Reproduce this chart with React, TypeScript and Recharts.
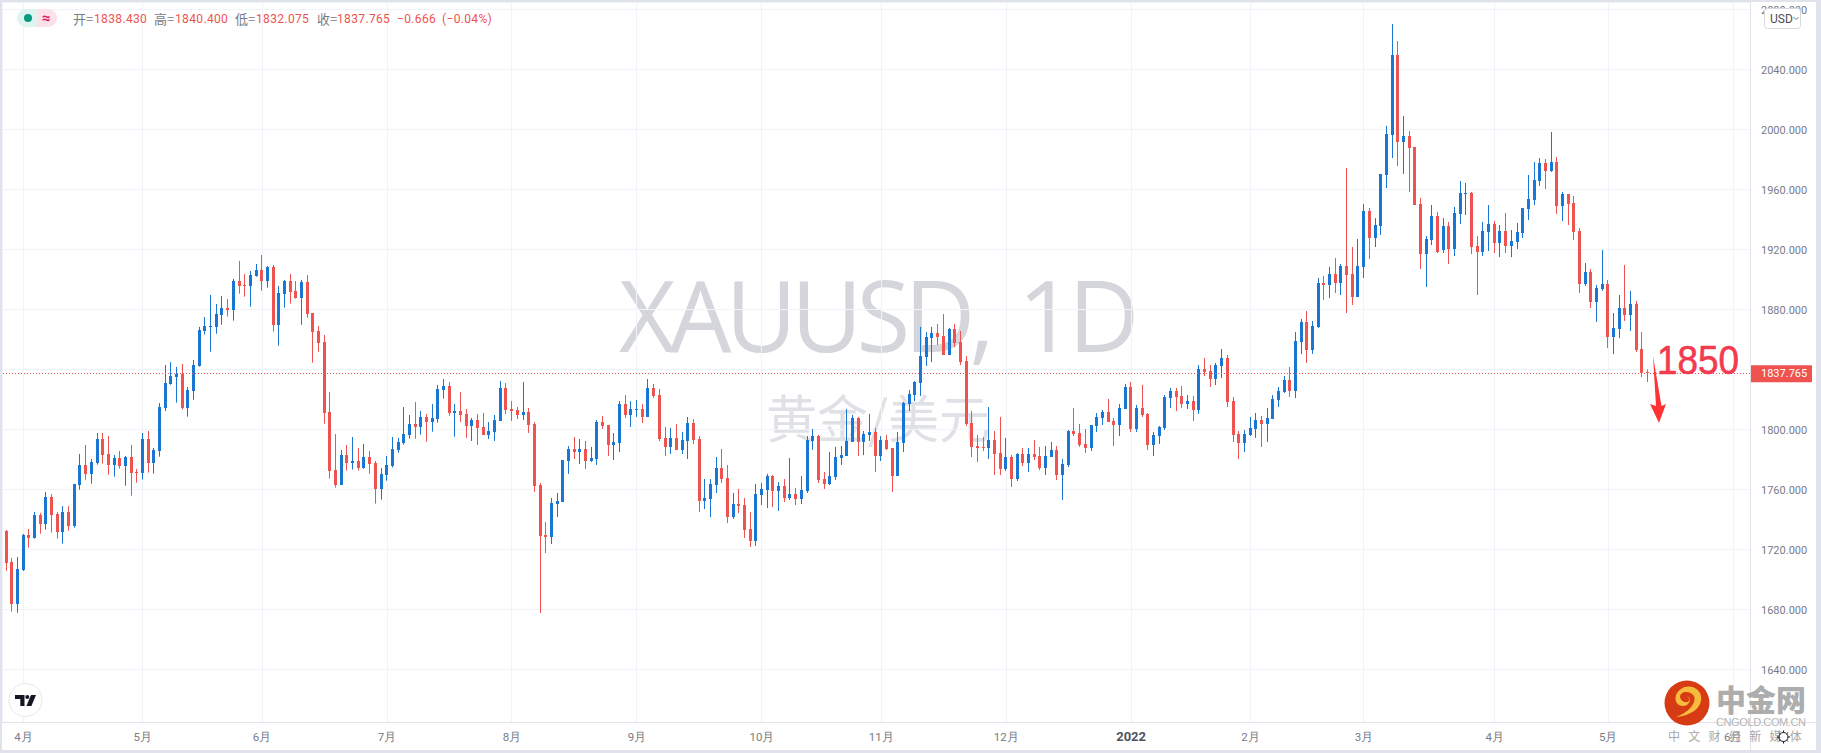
import React from "react";
import { ComposedChart, Bar, XAxis, YAxis, CartesianGrid, ReferenceLine } from "recharts";

const opens = [
  1726.2,1732.7,1712.0,1684.2,1706.7,1730.0,1728.2,1743.3,1737.6,1755.3,
  1744.0,1732.2,1745.3,1736.2,1763.6,1776.7,1770.9,1778.2,1794.0,1784.0,
  1776.9,1781.3,1776.2,1782.0,1772.0,1771.6,1794.0,1778.2,1786.2,1814.9,
  1830.9,1835.6,1837.3,1814.9,1826.2,1842.9,1866.2,1868.9,1868.9,1876.9,
  1881.3,1880.2,1899.3,1896.7,1896.2,1902.9,1906.7,1899.6,1908.7,1870.2,
  1890.9,1899.3,1892.7,1888.2,1898.7,1878.0,1866.0,1858.7,1812.0,1773.3,
  1763.6,1783.3,1778.2,1779.3,1774.9,1782.0,1778.0,1760.9,1770.2,1776.2,
  1786.9,1791.6,1796.9,1804.0,1802.2,1808.7,1805.6,1807.6,1826.9,1829.3,
  1811.3,1812.7,1810.7,1802.7,1806.7,1802.0,1796.7,1798.7,1806.0,1828.0,
  1814.0,1813.3,1810.0,1812.0,1804.0,1763.3,1730.0,1728.7,1750.7,1752.0,
  1779.3,1787.3,1785.3,1787.3,1779.3,1780.7,1805.3,1803.3,1790.0,1791.3,
  1817.3,1810.0,1813.3,1814.0,1808.7,1828.0,1823.3,1794.7,1788.7,1794.7,
  1786.7,1792.7,1804.7,1794.0,1752.7,1754.0,1763.3,1774.7,1768.0,1742.0,
  1750.7,1750.0,1734.0,1726.0,1756.7,1760.0,1769.3,1759.3,1762.7,1754.7,
  1757.3,1754.0,1759.3,1792.7,1796.0,1767.3,1764.0,1768.7,1781.3,1782.7,
  1792.0,1808.0,1792.0,1796.7,1798.7,1782.7,1793.3,1788.0,1769.3,1791.3,
  1817.6,1823.3,1831.3,1848.7,1861.3,1864.7,1862.7,1850.0,1867.3,1858.7,
  1846.0,1804.7,1789.3,1788.7,1788.0,1793.3,1784.7,1774.0,1782.0,1767.3,
  1784.0,1778.0,1784.0,1782.7,1774.7,1782.0,1786.7,1770.0,1776.7,1799.3,
  1798.0,1790.7,1788.0,1802.7,1808.0,1812.0,1806.0,1803.3,1814.0,1828.7,
  1800.7,1814.7,1810.7,1790.0,1796.0,1801.3,1821.3,1826.0,1822.7,1817.3,
  1819.3,1813.3,1840.7,1839.3,1834.0,1842.7,1848.0,1819.3,1797.3,1791.3,
  1796.7,1800.7,1806.7,1804.0,1807.3,1820.0,1825.3,1833.3,1826.0,1858.7,
  1872.0,1853.3,1868.7,1898.0,1896.7,1904.0,1898.0,1909.3,1904.0,1888.7,
  1908.7,1946.0,1928.0,1936.0,1970.0,1996.7,2050.0,1992.0,1996.0,1988.7,
  1950.7,1917.3,1926.7,1942.7,1920.0,1936.0,1920.7,1944.0,1957.3,1958.0,
  1922.7,1918.7,1932.0,1937.3,1924.7,1932.7,1922.7,1925.3,1931.3,1947.3,
  1953.3,1966.0,1978.0,1972.7,1978.7,1949.3,1957.3,1951.3,1932.7,1897.3,
  1905.3,1885.3,1894.0,1897.3,1862.0,1867.3,1881.3,1876.7,1884.0,1854.0,1838.43,
];

const highs = [
  1733.3,1733.3,1714.7,1715.3,1730.7,1734.0,1745.3,1744.7,1758.7,1757.3,
  1745.3,1749.3,1749.3,1764.0,1784.0,1790.0,1780.7,1798.0,1798.0,1796.0,
  1783.3,1786.0,1782.7,1790.0,1774.0,1798.0,1799.3,1788.0,1818.0,1843.3,
  1845.3,1842.0,1844.0,1828.7,1846.7,1868.7,1875.3,1890.0,1884.0,1889.3,
  1887.3,1900.7,1912.7,1904.0,1906.0,1910.7,1916.7,1909.3,1910.0,1896.0,
  1900.0,1904.0,1899.3,1900.0,1903.3,1878.0,1869.3,1863.3,1825.3,1797.3,
  1786.7,1790.0,1795.3,1788.0,1790.7,1786.0,1779.3,1774.7,1782.7,1795.3,
  1794.7,1815.3,1810.0,1818.7,1812.7,1810.7,1817.3,1830.0,1834.0,1832.0,
  1817.3,1825.3,1814.0,1808.0,1810.7,1811.3,1805.3,1810.0,1832.7,1831.3,
  1819.3,1815.3,1832.0,1814.7,1805.3,1764.7,1738.7,1754.7,1758.0,1780.0,
  1789.3,1795.3,1794.0,1792.7,1788.7,1806.7,1809.3,1803.3,1798.0,1819.3,
  1823.3,1819.3,1820.0,1817.3,1834.0,1830.7,1827.3,1802.0,1801.3,1804.0,
  1798.7,1808.7,1807.3,1796.0,1767.3,1767.3,1782.0,1787.3,1776.7,1758.0,
  1760.7,1754.7,1745.3,1764.0,1764.7,1770.7,1770.0,1765.3,1767.3,1781.3,
  1761.3,1769.3,1796.0,1800.7,1796.7,1772.0,1785.3,1788.7,1789.3,1814.0,
  1810.0,1808.7,1799.3,1810.7,1801.3,1796.0,1796.7,1788.0,1798.7,1818.7,
  1826.7,1832.7,1868.7,1865.3,1868.7,1870.7,1877.3,1868.0,1870.7,1866.0,
  1849.3,1812.7,1796.7,1795.3,1815.3,1799.3,1808.7,1794.7,1783.3,1784.7,
  1788.0,1788.0,1793.3,1788.7,1789.3,1792.0,1789.3,1780.7,1800.0,1814.7,
  1804.0,1800.7,1803.3,1811.3,1813.3,1820.7,1808.0,1817.3,1830.7,1832.0,
  1816.7,1830.0,1811.3,1798.7,1802.7,1823.3,1828.0,1828.0,1829.3,1823.3,
  1822.7,1843.3,1848.0,1843.3,1844.7,1854.0,1850.0,1822.0,1799.3,1800.0,
  1808.7,1811.3,1809.3,1814.7,1823.3,1828.7,1836.0,1842.0,1865.3,1874.0,
  1879.3,1872.7,1901.3,1902.7,1908.7,1914.7,1910.7,1974.7,1922.0,1927.3,
  1950.7,1948.0,1941.3,1970.7,2002.7,2070.7,2059.3,2009.3,1999.3,1988.7,
  1954.7,1929.3,1950.0,1945.3,1941.3,1938.7,1948.7,1966.0,1964.7,1958.7,
  1929.3,1938.7,1950.0,1939.3,1936.7,1944.7,1933.3,1938.0,1948.0,1970.0,
  1978.7,1981.3,1980.7,1998.7,1982.0,1958.7,1957.3,1956.0,1934.7,1911.3,
  1907.3,1896.7,1920.0,1900.0,1878.0,1890.0,1910.0,1892.7,1886.0,1865.3,1840.4,
];

const lows = [
  1725.5,1706.2,1678.9,1678.2,1706.0,1721.6,1727.6,1730.9,1733.6,1731.6,
  1727.6,1724.2,1732.9,1734.9,1760.2,1766.9,1764.2,1776.9,1777.6,1770.2,
  1768.9,1774.2,1762.9,1756.2,1764.9,1766.9,1771.6,1770.9,1782.2,1812.7,
  1830.2,1818.2,1813.6,1808.9,1820.2,1842.2,1863.6,1852.2,1864.2,1870.2,
  1875.6,1872.9,1890.9,1888.9,1882.2,1902.2,1892.9,1894.9,1865.6,1856.2,
  1881.6,1884.2,1887.6,1870.2,1874.9,1844.9,1852.2,1804.2,1767.6,1761.6,
  1763.6,1772.9,1773.6,1772.9,1774.2,1770.9,1750.9,1753.6,1766.2,1775.1,
  1784.9,1790.2,1794.2,1794.2,1796.9,1792.2,1798.9,1804.9,1820.9,1809.6,
  1795.6,1805.3,1794.7,1792.7,1790.0,1796.7,1794.0,1792.7,1806.0,1810.7,
  1806.0,1807.3,1806.7,1798.0,1758.7,1678.0,1718.0,1724.0,1742.0,1752.0,
  1770.7,1780.7,1777.3,1774.0,1778.7,1776.7,1800.7,1782.7,1780.0,1785.3,
  1808.0,1802.0,1808.7,1804.7,1808.7,1821.3,1792.7,1782.7,1784.0,1786.7,
  1784.0,1780.7,1790.7,1745.3,1747.3,1742.0,1758.0,1764.7,1738.0,1740.7,
  1744.7,1728.0,1722.0,1722.7,1750.0,1748.0,1748.7,1746.0,1752.0,1753.3,
  1750.0,1750.7,1758.0,1786.7,1764.7,1760.7,1763.3,1766.7,1776.7,1782.7,
  1792.0,1782.7,1783.3,1792.7,1772.0,1779.3,1786.7,1758.7,1769.3,1785.3,
  1812.7,1819.3,1822.7,1842.7,1845.3,1856.7,1850.0,1850.0,1855.3,1843.3,
  1802.7,1782.0,1778.7,1786.0,1780.7,1770.0,1770.0,1772.7,1762.0,1766.0,
  1776.0,1772.0,1780.0,1773.3,1770.0,1782.0,1766.7,1753.3,1775.3,1796.0,
  1788.7,1784.7,1786.0,1798.7,1803.3,1805.3,1789.3,1796.0,1814.0,1798.7,
  1798.7,1808.7,1786.7,1782.7,1790.7,1800.0,1814.7,1812.7,1814.7,1814.0,
  1806.0,1810.7,1836.0,1828.7,1830.0,1834.7,1815.3,1792.0,1780.7,1785.3,
  1796.0,1794.7,1788.7,1792.0,1807.3,1815.3,1824.7,1822.0,1821.3,1850.7,
  1844.7,1850.7,1868.0,1886.7,1888.0,1891.3,1890.0,1878.0,1883.3,1888.7,
  1901.3,1914.0,1922.0,1930.0,1961.3,1981.3,1976.0,1970.7,1958.7,1950.0,
  1907.3,1895.3,1923.3,1918.0,1918.0,1910.7,1916.0,1937.3,1943.3,1917.3,
  1890.0,1916.0,1919.3,1918.0,1915.3,1918.0,1915.3,1920.7,1928.0,1940.0,
  1950.0,1962.7,1960.7,1972.0,1944.0,1939.3,1936.7,1926.7,1891.3,1896.0,
  1881.3,1872.0,1892.7,1854.7,1850.7,1861.3,1872.7,1866.0,1852.0,1835.3,1832.075,
];

const closes = [
  1732.7,1711.6,1684.2,1707.3,1730.0,1728.2,1743.3,1737.6,1755.3,1743.6,
  1732.2,1745.3,1736.2,1764.0,1776.7,1770.9,1778.7,1794.0,1783.6,1776.9,
  1781.3,1776.2,1782.0,1771.6,1771.6,1794.0,1778.2,1786.7,1815.3,1831.3,
  1836.2,1837.3,1814.9,1826.7,1843.3,1866.7,1869.3,1869.3,1877.3,1881.3,
  1880.2,1899.3,1896.2,1896.2,1903.3,1906.7,1899.6,1908.7,1870.2,1891.3,
  1899.3,1892.2,1888.0,1898.7,1877.6,1865.6,1858.2,1811.6,1772.9,1763.6,
  1783.3,1778.2,1779.3,1774.9,1782.0,1777.6,1760.9,1770.7,1776.7,1787.3,
  1792.0,1797.3,1804.0,1802.2,1808.7,1805.6,1808.0,1827.3,1829.3,1811.6,
  1812.7,1810.0,1802.7,1806.7,1801.3,1796.7,1799.3,1806.7,1828.0,1813.3,
  1812.7,1810.0,1812.0,1803.3,1762.7,1729.3,1728.7,1751.3,1752.7,1780.0,
  1787.3,1785.3,1787.3,1779.3,1781.3,1805.3,1802.7,1790.0,1792.0,1817.3,
  1810.0,1814.0,1814.0,1808.7,1828.0,1822.7,1794.0,1788.7,1794.7,1786.7,
  1793.3,1804.7,1793.3,1752.7,1754.7,1764.0,1774.7,1767.3,1742.0,1750.7,
  1749.3,1733.3,1726.0,1757.3,1760.7,1769.3,1759.3,1762.7,1754.7,1757.3,
  1754.0,1760.0,1793.3,1796.0,1766.7,1764.0,1769.3,1782.0,1783.3,1792.7,
  1808.0,1792.0,1797.3,1798.7,1782.7,1793.3,1787.3,1769.3,1792.0,1818.2,
  1824.0,1832.0,1849.3,1862.0,1864.7,1862.0,1850.0,1867.3,1858.0,1845.3,
  1804.0,1788.7,1788.0,1788.2,1793.3,1784.0,1774.0,1782.0,1767.3,1784.0,
  1778.0,1784.0,1782.0,1774.7,1782.7,1786.7,1770.0,1777.3,1799.3,1797.3,
  1790.0,1788.0,1803.3,1808.7,1812.0,1805.3,1803.3,1814.7,1828.7,1800.7,
  1814.7,1810.0,1790.0,1796.7,1802.0,1822.0,1826.0,1822.0,1817.3,1819.3,
  1813.3,1840.7,1838.7,1834.0,1843.3,1848.0,1818.7,1796.7,1791.3,1797.3,
  1801.3,1806.7,1804.0,1808.0,1820.7,1826.0,1833.3,1826.0,1859.3,1872.0,
  1853.3,1869.3,1898.0,1896.7,1904.0,1898.0,1909.3,1903.3,1888.7,1909.3,
  1946.0,1928.0,1936.7,1970.7,1997.3,2050.0,1992.0,1996.0,1988.0,1950.0,
  1917.3,1927.3,1942.7,1918.7,1936.0,1920.7,1944.7,1958.0,1958.0,1922.0,
  1918.7,1932.7,1937.3,1924.7,1932.7,1922.7,1926.0,1932.0,1948.0,1954.0,
  1966.7,1978.0,1972.7,1978.7,1949.3,1957.3,1950.7,1932.0,1897.3,1905.3,
  1885.3,1894.7,1897.3,1862.0,1868.0,1881.3,1876.7,1884.0,1853.3,1838.0,1837.765,
];

const priceTicks = [1640, 1680, 1720, 1760, 1800, 1840, 1880, 1920, 1960, 2000, 2040, 2080];
const monthTicks = [4, 25, 46, 68, 90, 112, 134, 155, 177, 199, 220, 240, 263, 283, 305];
const monthLabels = ["4月", "5月", "6月", "7月", "8月", "9月", "10月", "11月", "12月", "2022", "2月", "3月", "4月", "5月", "6月"];
const lastPrice = 1837.765;

const candles = opens.map((open, i) => ({
  index: i,
  open,
  high: highs[i],
  low: lows[i],
  close: closes[i],
  range: [lows[i], highs[i]],
}));

const UP = "#1976d2";
const DOWN = "#ef5350";
const TEXT = "#787b86";
const LINE = "#e0e3eb";
const GRID = "#f0f3fa";
const FONT = "Roboto, sans-serif";
const CJK = "'Noto Sans CJK SC', sans-serif";

function Candle(props: any) {
  const { x, y, width, height, payload } = props;
  const color = payload.close >= payload.open ? UP : DOWN;
  const cx = Math.floor(x + width / 2);
  const unit = height / (payload.high - payload.low);
  const bodyTop = Math.max(payload.open, payload.close);
  const bodyBottom = Math.min(payload.open, payload.close);
  const by = Math.round(y + (payload.high - bodyTop) * unit);
  const bh = Math.max(1, Math.round((bodyTop - bodyBottom) * unit));
  return (
    <g>
      <rect x={cx} y={y} width={1} height={height} fill={color} />
      <rect x={cx - 1} y={by} width={3} height={bh} fill={color} />
    </g>
  );
}

function MonthTick(props: any) {
  const { x, y, payload } = props;
  const label = monthLabels[monthTicks.indexOf(payload.value)];
  const isYear = label === "2022";
  return (
    <text
      x={x}
      y={y + 13}
      textAnchor="middle"
      fontFamily={FONT}
      fontSize={isYear ? 13 : 11.5}
      fontWeight={isYear ? 700 : 400}
      fill={isYear ? "#50535e" : TEXT}
    >
      {label}
    </text>
  );
}

function PriceTag(props: any) {
  const { viewBox } = props;
  const right = viewBox.x + viewBox.width;
  return (
    <g>
      <rect x={right} y={viewBox.y - 8} width={62} height={17} rx={1} fill={DOWN} />
      <text x={right + 11} y={viewBox.y + 4} fontFamily={FONT} fontSize={11} fill="#fff">
        {lastPrice.toFixed(3)}
      </text>
    </g>
  );
}

const legendItems = [
  { x: 73, text: "开=", color: TEXT, font: CJK },
  { x: 94, text: "1838.430", color: DOWN, font: FONT },
  { x: 154, text: "高=", color: TEXT, font: CJK },
  { x: 175, text: "1840.400", color: DOWN, font: FONT },
  { x: 235, text: "低=", color: TEXT, font: CJK },
  { x: 256, text: "1832.075", color: DOWN, font: FONT },
  { x: 317, text: "收=", color: TEXT, font: CJK },
  { x: 337, text: "1837.765", color: DOWN, font: FONT },
  { x: 397, text: "−0.666", color: DOWN, font: FONT },
  { x: 442, text: "(−0.04%)", color: DOWN, font: FONT },
];

function Legend() {
  return (
    <>
      <div style={{ position: "absolute", left: 17, top: 9, width: 20, height: 18, background: "#dff3f0", borderRadius: "9px 0 0 9px" }} />
      <div style={{ position: "absolute", left: 37, top: 9, width: 20, height: 18, background: "#fce0ea", borderRadius: "0 9px 9px 0" }} />
      <div style={{ position: "absolute", left: 24, top: 14, width: 8, height: 8, background: "#089981", borderRadius: "50%" }} />
      <div style={{ position: "absolute", left: 38, top: 9, width: 16, lineHeight: "18px", fontSize: 15, fontWeight: 700, textAlign: "center", color: "#d81b60", fontFamily: FONT }}>≈</div>
      {legendItems.map((item) => (
        <span
          key={item.x}
          style={{
            position: "absolute",
            left: item.x,
            top: 11,
            lineHeight: "16px",
            fontSize: item.font === CJK ? 13 : 12,
            letterSpacing: item.font === CJK ? 0 : 0.35,
            color: item.color,
            fontFamily: item.font,
            whiteSpace: "nowrap",
          }}
        >
          {item.text}
        </span>
      ))}
    </>
  );
}

function Overlay() {
  return (
    <svg width={1821} height={753} style={{ position: "absolute", left: 0, top: 0 }}>
      {/* frame */}
      <rect x={0} y={0} width={1821} height={2} fill={LINE} />
      <rect x={0} y={0} width={2} height={753} fill={LINE} />
      <rect x={1816} y={0} width={5} height={753} fill={LINE} />
      <rect x={0} y={750} width={1821} height={3} fill={LINE} />
      <rect x={1750} y={0} width={1} height={750} fill={LINE} />
      <rect x={2} y={722} width={1814} height={1} fill={LINE} />

      {/* tradingview badge */}
      <circle cx={25.5} cy={700} r={16.5} fill="#fff" stroke="#e8e8ec" />
      <path d="M15 695h9.5v11h-4.2v-7H15z" fill="#131722" />
      <circle cx={27.3} cy={697} r={2} fill="#131722" />
      <path d="M31 695h5l-4.6 11h-5z" fill="#131722" />

      {/* currency button */}
      <rect x={1764.5} y={8.5} width={36} height={20} rx={3} fill="#fff" stroke="#d6d8e0" />
      <text x={1770} y={23} fontFamily={FONT} fontSize={12} fill="#4a4e5a">USD</text>
      <path d="M1793.5 17l2.5 2.5 2.5-2.5" fill="none" stroke="#787b86" />

      {/* hand drawn annotation */}
      <text x={1657} y={374} fontFamily="'Liberation Sans', sans-serif" fontSize={41} fill="#f23b4f" stroke="#f23b4f" strokeWidth={0.6} textLength={82} lengthAdjust="spacingAndGlyphs">
        1850
      </text>
      <path d="M1653 356L1656 406L1650 404L1659 423L1666 404L1661.5 406Z" fill="#ff3333" />

      {/* cngold stamp */}
      <circle cx={1687} cy={703} r={22.5} fill="#d63b13" />
      <path d="M1676 717C1690 716 1703 708 1701 696C1699 687 1688 684 1681 689C1673 694 1674 706 1683 706C1690 706 1692 698 1687 696C1694 703 1682 705 1680 697C1680 691 1690 690 1694 696C1697 704 1687 713 1676 717Z" fill="#f7bb3d" />
      <text x={1716} y={711} fontFamily={CJK} fontWeight={900} fontSize={30} fill="#adadad">中金网</text>
      <text x={1716} y={726} fontFamily="'Liberation Sans', sans-serif" fontSize={11} fill="#b4b4b4" textLength={90}>CNGOLD.COM.CN</text>
      <text x={1668} y={741} fontFamily={CJK} fontSize={12} fill="#a8a8a8" letterSpacing={8.3}>中文财经新媒体</text>

      {/* settings icon */}
      <circle cx={1783.5} cy={737} r={4.5} fill="none" stroke="#131722" />
      <path d="M1783.5 730.5v2M1783.5 741.5v2M1777 737h2M1788 737h2M1779 732.5l1.4 1.4M1786.6 740.1l1.4 1.4M1779 741.5l1.4-1.4M1786.6 733.9l1.4-1.4" stroke="#131722" />
    </svg>
  );
}

export default function App() {
  return (
    <div style={{ position: "absolute", left: 0, top: 0, width: 1821, height: 753, background: "#fff", overflow: "hidden" }}>
      <div style={{ position: "absolute", left: 619, top: 247, fontFamily: "'Open Sans', sans-serif", fontSize: 98, lineHeight: "134px", letterSpacing: -6, wordSpacing: 10, color: "#d5d6db", whiteSpace: "nowrap" }}>
        XAUUSD, 1D
      </div>
      <div style={{ position: "absolute", left: 766, top: 380, fontFamily: CJK, fontSize: 51, lineHeight: "72px", color: "#e0e1e6", whiteSpace: "nowrap" }}>
        黄金/美元
      </div>
      <div style={{ position: "absolute", left: 0, top: 0 }}>
        <ComposedChart
          width={1821}
          height={753}
          data={candles}
          margin={{ top: 2, right: 5, bottom: 3, left: 2 }}
        >
          <CartesianGrid stroke={GRID} shapeRendering="crispEdges" />
          <XAxis
            dataKey="index"
            type="number"
            domain={[0.211, 307.96]}
            allowDataOverflow
            ticks={monthTicks}
            interval={0}
            height={28}
            axisLine={false}
            tickLine={false}
            tickMargin={0}
            tick={<MonthTick />}
          />
          <YAxis
            orientation="right"
            type="number"
            domain={[1605.33, 2085.33]}
            allowDataOverflow
            ticks={priceTicks}
            interval={0}
            width={66}
            axisLine={false}
            tickLine={false}
            tickMargin={5}
            tickFormatter={(v: number) => (v === 1840 ? "" : v.toFixed(3))}
            tick={{ fontFamily: FONT, fontSize: 11, fill: TEXT }}
          />
          <Bar dataKey="range" barSize={3} isAnimationActive={false} shape={<Candle />} />
          <ReferenceLine y={lastPrice} stroke={DOWN} strokeDasharray="1 2" shapeRendering="crispEdges" label={<PriceTag />} />
        </ComposedChart>
      </div>
      <Overlay />
      <Legend />
    </div>
  );
}
